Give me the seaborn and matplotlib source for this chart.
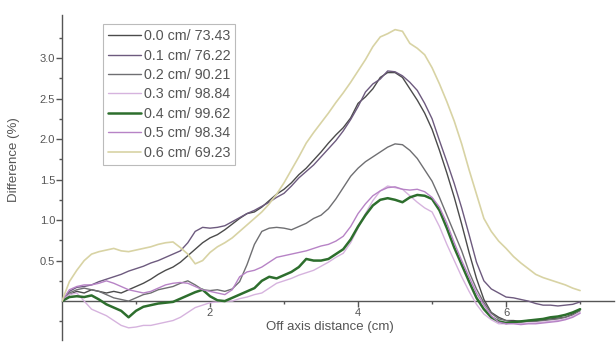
import numpy as np
import pandas as pd
import matplotlib
matplotlib.use("Agg")
import matplotlib.pyplot as plt
import seaborn as sns

# off-axis distance (cm), 0.1 cm step
distance = np.round(np.arange(0, 7.01, 0.1), 1)

shift_labels = ["0.0 cm/ 73.43", "0.1 cm/ 76.22", "0.2 cm/ 90.21", "0.3 cm/ 98.84",
                "0.4 cm/ 99.62", "0.5 cm/ 98.34", "0.6 cm/ 69.23"]

diff_00 = [0.0, 0.08, 0.12, 0.10, 0.14, 0.12, 0.10, 0.12, 0.10, 0.14,
           0.18, 0.22, 0.27, 0.33, 0.38, 0.42, 0.48, 0.56, 0.64, 0.72,
           0.78, 0.82, 0.88, 0.95, 1.02, 1.08, 1.10, 1.16, 1.24, 1.32,
           1.38, 1.46, 1.56, 1.64, 1.74, 1.84, 1.95, 2.05, 2.14, 2.26,
           2.44, 2.52, 2.62, 2.76, 2.82, 2.82, 2.76, 2.62, 2.48, 2.32,
           2.12, 1.86, 1.58, 1.28, 0.95, 0.60, 0.28, 0.02, -0.14, -0.20,
           -0.24, -0.24, -0.25, -0.24, -0.24, -0.23, -0.22, -0.21, -0.20, -0.16,
           -0.10]
diff_01 = [0.0, 0.12, 0.17, 0.18, 0.20, 0.24, 0.27, 0.30, 0.33, 0.37,
           0.40, 0.43, 0.47, 0.50, 0.54, 0.58, 0.62, 0.72, 0.86, 0.91,
           0.90, 0.91, 0.93, 0.98, 1.03, 1.08, 1.12, 1.17, 1.22, 1.28,
           1.33, 1.42, 1.52, 1.60, 1.68, 1.78, 1.88, 1.98, 2.10, 2.24,
           2.40, 2.58, 2.68, 2.74, 2.84, 2.83, 2.78, 2.70, 2.60, 2.44,
           2.25, 1.98, 1.72, 1.45, 1.15, 0.82, 0.48, 0.25, 0.15, 0.10,
           0.05, 0.04, 0.02, 0.00, -0.03, -0.05, -0.05, -0.06, -0.05, -0.04,
           -0.01]
diff_02 = [0.0, 0.10, 0.14, 0.16, 0.14, 0.12, 0.08, 0.04, 0.02, 0.00,
           0.04, 0.08, 0.10, 0.14, 0.16, 0.18, 0.22, 0.25, 0.20, 0.14,
           0.13, 0.14, 0.12, 0.15, 0.24, 0.45, 0.70, 0.86, 0.90, 0.91,
           0.90, 0.88, 0.92, 0.96, 1.02, 1.06, 1.14, 1.26, 1.40, 1.54,
           1.64, 1.72, 1.78, 1.84, 1.90, 1.94, 1.93, 1.86, 1.76, 1.62,
           1.48, 1.28, 1.06, 0.84, 0.62, 0.36, 0.15, -0.02, -0.15, -0.22,
           -0.24, -0.26, -0.26, -0.25, -0.25, -0.24, -0.23, -0.22, -0.20, -0.17,
           -0.12]
diff_03 = [0.0, 0.08, 0.10, 0.00, -0.10, -0.14, -0.18, -0.24, -0.30, -0.33,
           -0.32, -0.30, -0.30, -0.28, -0.26, -0.24, -0.20, -0.14, -0.08, -0.05,
           -0.02, -0.01, 0.00, 0.00, 0.03, 0.05, 0.08, 0.10, 0.16, 0.22,
           0.25, 0.28, 0.32, 0.35, 0.38, 0.43, 0.48, 0.54, 0.59, 0.72,
           0.90, 1.08, 1.24, 1.36, 1.42, 1.40, 1.38, 1.30, 1.22, 1.15,
           1.10, 0.92, 0.70, 0.50, 0.30, 0.12, -0.04, -0.16, -0.23, -0.28,
           -0.28, -0.27, -0.28, -0.27, -0.27, -0.26, -0.25, -0.24, -0.22, -0.19,
           -0.14]
diff_04 = [0.0, 0.05, 0.06, 0.05, 0.07, 0.02, -0.04, -0.08, -0.12, -0.20,
           -0.12, -0.07, -0.05, -0.03, -0.02, -0.01, 0.03, 0.07, 0.11, 0.14,
           0.06, 0.01, 0.00, 0.04, 0.08, 0.12, 0.16, 0.25, 0.30, 0.28,
           0.32, 0.36, 0.42, 0.52, 0.50, 0.50, 0.52, 0.58, 0.64, 0.76,
           0.92, 1.06, 1.18, 1.25, 1.27, 1.25, 1.22, 1.28, 1.31, 1.30,
           1.26, 1.12, 0.90, 0.66, 0.45, 0.24, 0.04, -0.10, -0.20, -0.25,
           -0.27, -0.26, -0.25, -0.24, -0.23, -0.22, -0.20, -0.19, -0.17, -0.14,
           -0.10]
diff_05 = [0.0, 0.14, 0.18, 0.20, 0.20, 0.22, 0.25, 0.22, 0.18, 0.14,
           0.12, 0.10, 0.12, 0.16, 0.20, 0.22, 0.23, 0.22, 0.18, 0.14,
           0.12, 0.10, 0.08, 0.14, 0.30, 0.36, 0.38, 0.42, 0.48, 0.54,
           0.56, 0.58, 0.60, 0.62, 0.65, 0.68, 0.70, 0.74, 0.80, 0.92,
           1.08, 1.20, 1.30, 1.36, 1.40, 1.41, 1.38, 1.37, 1.38, 1.35,
           1.28, 1.16, 0.96, 0.72, 0.50, 0.30, 0.10, -0.05, -0.18, -0.26,
           -0.28, -0.28, -0.29, -0.28, -0.28, -0.27, -0.26, -0.25, -0.23, -0.20,
           -0.15]
diff_06 = [0.0, 0.24, 0.38, 0.50, 0.58, 0.61, 0.63, 0.65, 0.62, 0.61,
           0.63, 0.65, 0.67, 0.70, 0.72, 0.73, 0.66, 0.58, 0.46, 0.50,
           0.60, 0.67, 0.72, 0.78, 0.86, 0.94, 1.02, 1.10, 1.20, 1.32,
           1.46, 1.62, 1.78, 1.95, 2.08, 2.20, 2.32, 2.45, 2.57, 2.70,
           2.84, 2.98, 3.14, 3.26, 3.30, 3.35, 3.33, 3.18, 3.12, 3.04,
           2.88, 2.68, 2.46, 2.22, 1.94, 1.62, 1.32, 1.02, 0.86, 0.74,
           0.65, 0.55, 0.47, 0.40, 0.33, 0.29, 0.26, 0.23, 0.20, 0.16,
           0.13]

series = [diff_00, diff_01, diff_02, diff_03, diff_04, diff_05, diff_06]
colors = ["#4b4b4b", "#6d5a7e", "#6f6f72", "#d6b3de", "#2d6e2d", "#b783c6", "#d8d3a4"]
widths = [1.0, 1.0, 1.0, 1.0, 1.8, 1.0, 1.2]

df = pd.DataFrame({
    "distance": np.tile(distance, len(series)),
    "diff": np.concatenate(series),
    "shift": np.repeat(shift_labels, len(distance)),
})

sns.set_theme(style="white")
plt.rcParams["font.family"] = ["Liberation Sans", "DejaVu Sans"]

fig = plt.figure(figsize=(6.16, 3.5), dpi=100)
ax = fig.add_axes([0.1006, 0.0286, 0.8964, 0.9284])

for label, color, lw in zip(shift_labels, colors, widths):
    sns.lineplot(data=df[df["shift"] == label], x="distance", y="diff",
                 color=color, linewidth=lw, label=label, ax=ax, zorder=3)

ax.set_xlim(0, 7.46)
ax.set_ylim(-0.48, 3.53)

ax.spines["top"].set_visible(False)
ax.spines["right"].set_visible(False)
ax.spines["bottom"].set_position(("data", 0))
for sp in ["left", "bottom"]:
    ax.spines[sp].set_color("#555555")
    ax.spines[sp].set_linewidth(1.0)

ax.set_xticks([2, 4, 6])
ax.set_xticklabels(["2", "4", "6"])
ax.set_xticks([1, 3, 5, 7], minor=True)
yt = [0.5, 1.0, 1.5, 2.0, 2.5, 3.0]
ax.set_yticks(yt)
ax.set_yticklabels([f"{v:.1f}" for v in yt])
ax.set_yticks([-0.25, 0.25, 0.75, 1.25, 1.75, 2.25, 2.75, 3.25], minor=True)
ax.tick_params(axis="both", which="major", direction="out", length=4, width=1,
               color="#555555", labelsize=8, labelcolor="#555555", pad=1,
               bottom=True, left=True)
ax.tick_params(axis="both", which="minor", direction="out", length=2.5, width=1,
               color="#555555", bottom=True, left=True)

ax.set_xlabel("")
ax.set_ylabel("")
fig.text(0.535, 0.065, "Off axis distance (cm)", ha="center", va="center",
         fontsize=9.5, color="#555555")
fig.text(0.022, 0.545, "Difference (%)", ha="center", va="center",
         rotation=90, fontsize=9.5, color="#555555")

leg = ax.legend(loc="upper left", bbox_to_anchor=(0.167, 0.931),
                bbox_transform=fig.transFigure, fontsize=10.3, frameon=True,
                fancybox=False, borderpad=0.35, labelspacing=0.38,
                handlelength=2.3, handletextpad=0.2, borderaxespad=0)
leg.get_frame().set_edgecolor("#aaaaaa")
leg.get_frame().set_linewidth(0.8)
for t in leg.get_texts():
    t.set_color("#555555")

fig.savefig("out.png", dpi=100, facecolor="white")
plt.close(fig)
